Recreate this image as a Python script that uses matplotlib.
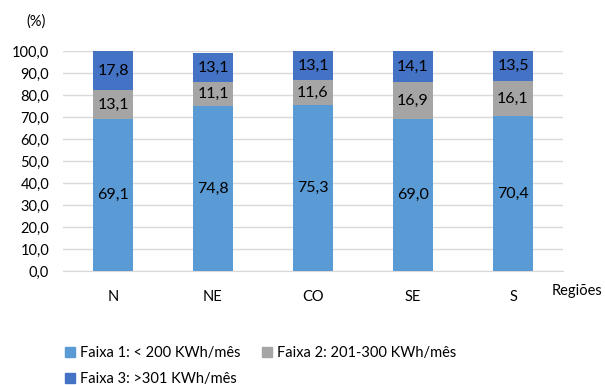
import matplotlib.pyplot as plt
from matplotlib.patches import Patch

regioes = ["N", "NE", "CO", "SE", "S"]
faixa1 = [69.1, 74.8, 75.3, 69.0, 70.4]
faixa2 = [13.1, 11.1, 11.6, 16.9, 16.1]
faixa3 = [17.8, 13.1, 13.1, 14.1, 13.5]
nomes = ["Faixa 1: < 200 KWh/mês", "Faixa 2: 201-300 KWh/mês", "Faixa 3: >301 KWh/mês"]
cores = ["#5B9BD5", "#A5A5A5", "#4472C4"]
yticks = [0, 10, 20, 30, 40, 50, 60, 70, 80, 90, 100]

plt.rcParams["font.family"] = ["Lato", "DejaVu Sans"]

fig = plt.figure(figsize=(6.05, 3.85), dpi=100)
ax = fig.add_axes([63 / 605, 1 - 271 / 385, 500 / 605, 220 / 385])

x = list(range(len(regioes)))
base = [0] * len(regioes)
for vals, cor in zip([faixa1, faixa2, faixa3], cores):
    bars = ax.bar(x, vals, width=0.4, bottom=base, color=cor, zorder=3)
    for b, v, y0 in zip(bars, vals, base):
        ax.text(b.get_x() + b.get_width() / 2, y0 + v / 2, f"{v:.1f}".replace(".", ","),
                ha="center", va="center", fontsize=11.5, color="#000000", zorder=4)
    base = [a + v for a, v in zip(base, vals)]

ax.set_xlim(-0.5, len(regioes) - 0.5)
ax.set_ylim(0, 100)
ax.set_yticks(yticks)
ax.set_yticklabels([f"{t:.1f}".replace(".", ",") for t in yticks], fontsize=10.5)
ax.set_xticks(x)
ax.set_xticklabels(regioes, fontsize=10.5)
ax.tick_params(axis="both", length=0, colors="#000000")
ax.tick_params(axis="x", pad=14)
ax.tick_params(axis="y", pad=10)
ax.yaxis.grid(True, color="#D9D9D9", linewidth=1, zorder=0)
for s in ["top", "right", "left"]:
    ax.spines[s].set_visible(False)
ax.spines["bottom"].set_color("#D9D9D9")

fig.text(36 / 605, 1 - 22 / 385, "(%)", ha="center", va="center", fontsize=10.5)
fig.text(577 / 605, 1 - 291 / 385, "Regiões", ha="center", va="center", fontsize=10.5)

# legenda em duas colunas: Faixa 1 e 3 na primeira, Faixa 2 na segunda
ordem = [0, 2, 1]
handles = [Patch(color=cores[i]) for i in ordem]
labels = [nomes[i] for i in ordem]
leg = fig.legend(handles, labels, loc="upper left", bbox_to_anchor=(52 / 605, 1 - 333 / 385),
                 ncol=2, frameon=False, fontsize=10.5, handlelength=0.7, handleheight=0.7,
                 handletextpad=0.3, columnspacing=1.5, labelspacing=0.8)

fig.savefig("out.png", dpi=100)
